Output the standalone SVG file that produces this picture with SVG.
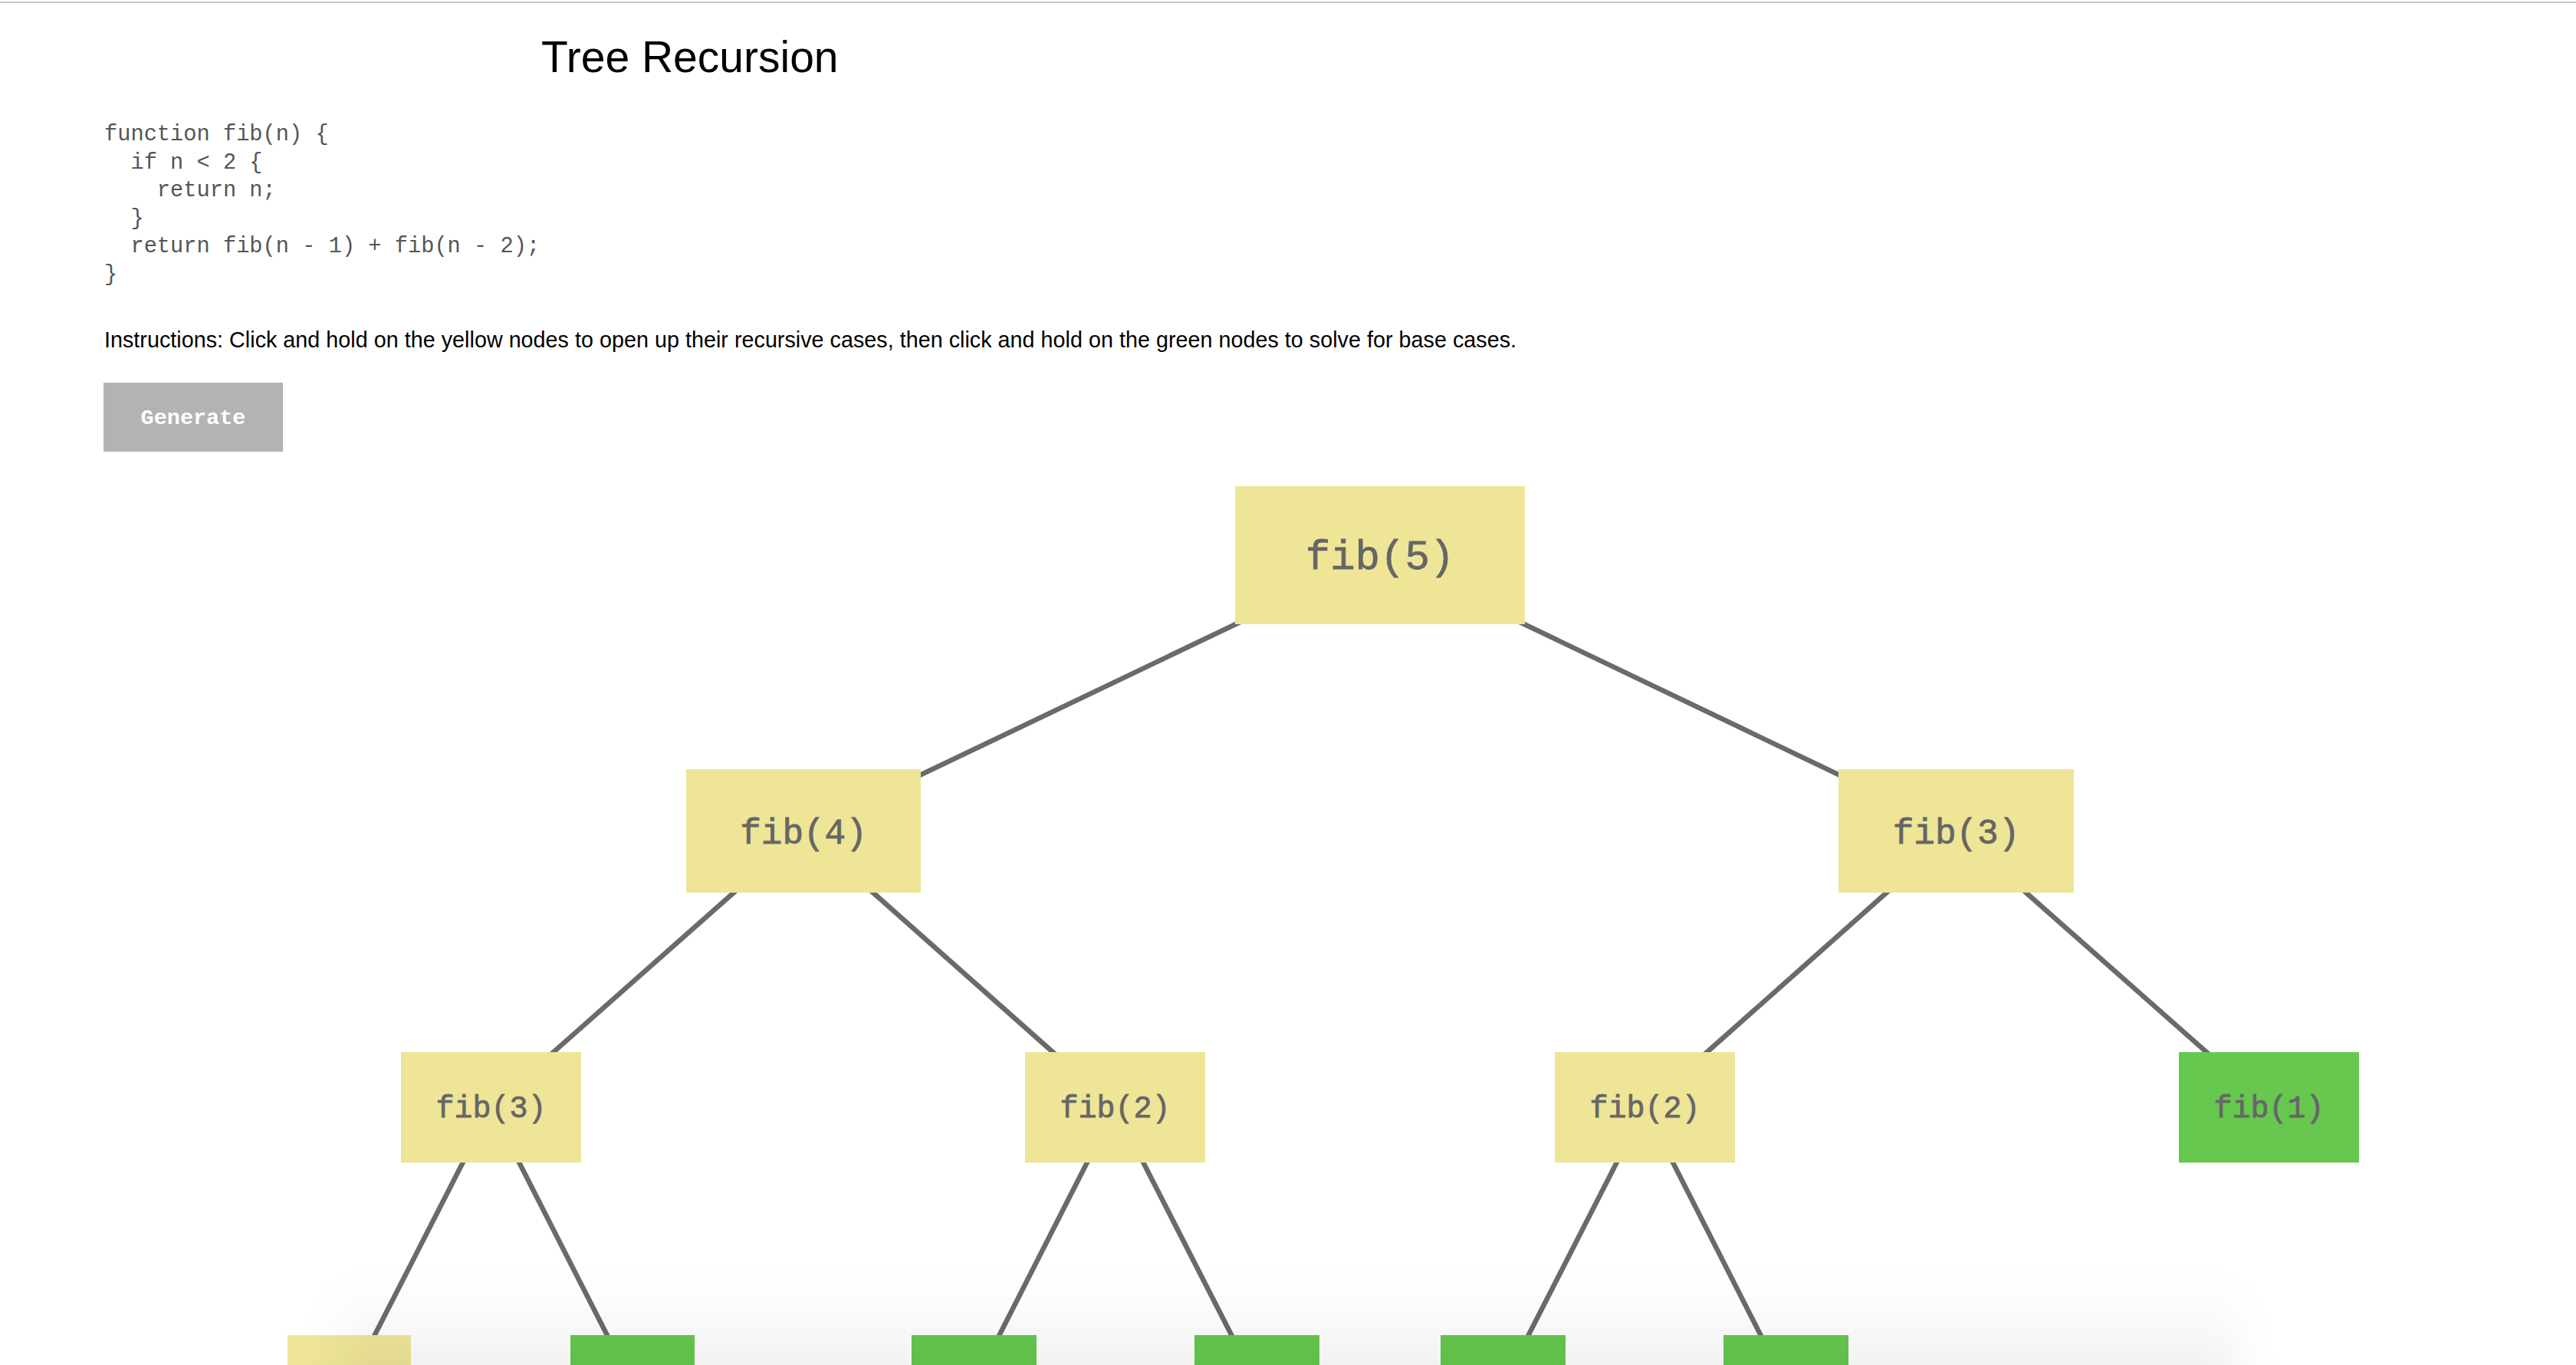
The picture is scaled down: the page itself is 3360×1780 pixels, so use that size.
<svg xmlns="http://www.w3.org/2000/svg" width="3360" height="1780" viewBox="0 0 3360 1780">
  <defs>
    <style>
      .title { font-family: "Liberation Sans", Arial, sans-serif; font-size: 57px; fill: #000; }
      .code { font-family: "Liberation Mono", "Courier New", monospace; font-size: 28.7px; fill: #555; white-space: pre; }
      .instr { font-family: "Liberation Sans", Arial, sans-serif; font-size: 28.7px; fill: #000; }
      .btn { fill: #b3b3b3; }
      .btntext { font-family: "Liberation Mono", "Courier New", monospace; font-size: 28.5px; font-weight: bold; fill: #fff; }
      .rec { fill: #eee597; }
      .base { fill: #66c84e; }
      .lbl { font-family: "Liberation Mono", "Courier New", monospace; fill: #666; stroke: #666; stroke-width: 0.8; text-anchor: middle; }
      .edge { stroke: #6a6a6a; stroke-width: 6.5; fill: none; }
    </style>
    <linearGradient id="shade" x1="0" y1="0" x2="0" y2="1">
      <stop offset="0" stop-color="#000" stop-opacity="0"/>
      <stop offset="1" stop-color="#000" stop-opacity="0.09"/>
    </linearGradient>
    <filter id="soft" x="-0.1" y="-1" width="1.2" height="3">
      <feGaussianBlur stdDeviation="28"/>
    </filter>
  </defs>

  <rect x="0" y="0" width="3360" height="1780" fill="#fff"/>
  <rect x="0" y="2" width="3360" height="2" fill="#c8c8c8"/>

  <text class="title" x="706" y="94">Tree Recursion</text>

  <g id="code">
    <text class="code" x="136" y="183">function fib(n) {</text>
    <text class="code" x="136" y="219.5">  if n &lt; 2 {</text>
    <text class="code" x="136" y="256">    return n;</text>
    <text class="code" x="136" y="292.5">  }</text>
    <text class="code" x="136" y="329">  return fib(n - 1) + fib(n - 2);</text>
    <text class="code" x="136" y="365.5">}</text>
  </g>

  <text class="instr" x="136" y="453" textLength="1842" lengthAdjust="spacing">Instructions: Click and hold on the yellow nodes to open up their recursive cases, then click and hold on the green nodes to solve for base cases.</text>

  <g id="generate">
    <rect class="btn" x="135" y="499" width="234" height="90"/>
    <text class="btntext" x="252" y="553" text-anchor="middle">Generate</text>
  </g>

  <g id="connectors">
    <line class="edge" x1="1800" y1="724" x2="1048" y2="1083.5"/>
    <line class="edge" x1="1800" y1="724" x2="2551.5" y2="1083.5"/>
    <line class="edge" x1="1048" y1="1083.5" x2="640.5" y2="1444"/>
    <line class="edge" x1="1048" y1="1083.5" x2="1454.5" y2="1444"/>
    <line class="edge" x1="2551.5" y1="1083.5" x2="2145.5" y2="1444"/>
    <line class="edge" x1="2551.5" y1="1083.5" x2="2959.5" y2="1444"/>
    <line class="edge" x1="640.5" y1="1444" x2="455.5" y2="1806"/>
    <line class="edge" x1="640.5" y1="1444" x2="825" y2="1806"/>
    <line class="edge" x1="1454.5" y1="1444" x2="1270.5" y2="1806"/>
    <line class="edge" x1="1454.5" y1="1444" x2="1639.5" y2="1806"/>
    <line class="edge" x1="2145.5" y1="1444" x2="1960.5" y2="1806"/>
    <line class="edge" x1="2145.5" y1="1444" x2="2329.5" y2="1806"/>
  </g>

  <g id="n-fib5">
    <rect class="rec" x="1611" y="634" width="378" height="180"/>
    <text class="lbl" x="1800" y="742" font-size="54">fib(5)</text>
  </g>
  <g id="n-fib4">
    <rect class="rec" x="895" y="1003" width="306" height="161"/>
    <text class="lbl" x="1048" y="1100" font-size="46">fib(4)</text>
  </g>
  <g id="n-fib3-r">
    <rect class="rec" x="2398" y="1003" width="307" height="161"/>
    <text class="lbl" x="2551.5" y="1100" font-size="46">fib(3)</text>
  </g>
  <g id="n-fib3-l">
    <rect class="rec" x="523" y="1372" width="235" height="144"/>
    <text class="lbl" x="640.5" y="1457" font-size="40">fib(3)</text>
  </g>
  <g id="n-fib2-a">
    <rect class="rec" x="1337" y="1372" width="235" height="144"/>
    <text class="lbl" x="1454.5" y="1457" font-size="40">fib(2)</text>
  </g>
  <g id="n-fib2-b">
    <rect class="rec" x="2028" y="1372" width="235" height="144"/>
    <text class="lbl" x="2145.5" y="1457" font-size="40">fib(2)</text>
  </g>
  <g id="n-fib1">
    <rect class="base" x="2842" y="1372" width="235" height="144"/>
    <text class="lbl" x="2959.5" y="1457" font-size="40">fib(1)</text>
  </g>
  <g id="n-l4-1"><rect class="rec" x="375" y="1741" width="161" height="130"/></g>
  <g id="n-l4-2"><rect class="base" x="744" y="1741" width="162" height="130"/></g>
  <g id="n-l4-3"><rect class="base" x="1189" y="1741" width="163" height="130"/></g>
  <g id="n-l4-4"><rect class="base" x="1558" y="1741" width="163" height="130"/></g>
  <g id="n-l4-5"><rect class="base" x="1879" y="1741" width="163" height="130"/></g>
  <g id="n-l4-6"><rect class="base" x="2248" y="1741" width="163" height="130"/></g>

  <rect x="440" y="1670" width="2480" height="200" fill="url(#shade)" filter="url(#soft)"/>
</svg>
